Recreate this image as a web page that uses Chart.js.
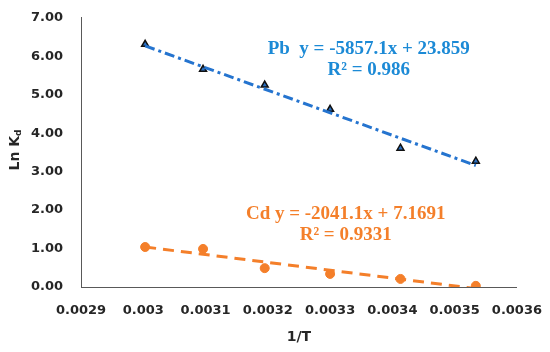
<!DOCTYPE html>
<html>
<head>
<meta charset="utf-8">
<script src="https://cdn.jsdelivr.net/npm/chart.js@4/dist/chart.umd.min.js"></script>
<style>
  html, body { margin: 0; padding: 0; background: #fff; }
  #wrap { width: 550px; height: 352px; }
</style>
</head>
<body>
<div id="wrap"><canvas id="id-canvas" width="550" height="352"></canvas></div>
<script>
// valeurs
var invT = [0.003003, 0.003096, 0.003195, 0.003300, 0.003413, 0.003534];
var pbLnKd = [6.31, 5.66, 5.25, 4.62, 3.61, 3.27];
var cdLnKd = [1.04, 0.99, 0.49, 0.34, 0.21, 0.03];

// droites de tendance (extremites lues)
var trendX = [0.003003, 0.003534];
var pbTrend = [6.27, 3.16];
var cdTrend = [1.04, -0.04];

var xTicks = [0.0029, 0.003, 0.0031, 0.0032, 0.0033, 0.0034, 0.0035, 0.0036];

var pbLabel = ['Pb  y = -5857.1x + 23.859', 'R\u00b2 = 0.986'];
var cdLabel = ['Cd y = -2041.1x + 7.1691', 'R\u00b2 = 0.9331'];

var blue = '#2574CF';
var blueText = '#1C8AD6';
var orange = '#F47F2A';

function pts(xs, ys) {
  return xs.map(function(x, i) { return {x: x, y: ys[i]}; });
}

(function() {
  var textPlugin = {
    id: 'texts',
    afterDraw: function(chart) {
      var ctx = chart.ctx;
      var xs = chart.scales.x, ys = chart.scales.y;
      ctx.save();
      ctx.textAlign = 'center';
      ctx.textBaseline = 'middle';
      ctx.font = 'bold 19px "Liberation Serif"';
      ctx.fillStyle = blueText;
      ctx.fillText(pbLabel[0], xs.getPixelForValue(0.003362), ys.getPixelForValue(6.18));
      ctx.fillText(pbLabel[1], xs.getPixelForValue(0.003362), ys.getPixelForValue(5.63));
      ctx.fillStyle = orange;
      ctx.fillText(cdLabel[0], xs.getPixelForValue(0.003325), ys.getPixelForValue(1.90));
      ctx.fillText(cdLabel[1], xs.getPixelForValue(0.003325), ys.getPixelForValue(1.36));

      // titre axe x
      ctx.fillStyle = '#262626';
      ctx.font = 'bold 14px "DejaVu Sans"';
      ctx.fillText('1/T', (chart.chartArea.left + chart.chartArea.right) / 2, 337);

      // titre axe y avec indice
      ctx.translate(15, 150);
      ctx.rotate(-Math.PI / 2);
      ctx.textAlign = 'left';
      ctx.font = 'bold 14px "DejaVu Sans"';
      var w1 = ctx.measureText('Ln K').width;
      ctx.font = 'bold 9px "DejaVu Sans"';
      var w2 = ctx.measureText('d').width;
      var x0 = -(w1 + w2) / 2;
      ctx.font = 'bold 14px "DejaVu Sans"';
      ctx.fillText('Ln K', x0, 0);
      ctx.font = 'bold 9px "DejaVu Sans"';
      ctx.fillText('d', x0 + w1, 4);
      ctx.restore();
    }
  };

  var options = {
    type: 'scatter',
    data: {
      datasets: [
        {
          label: 'Pb trend',
          data: pts(trendX, pbTrend),
          showLine: true,
          borderColor: blue,
          borderWidth: 3,
          borderDash: [10, 4, 3, 4],
          pointRadius: 0,
          fill: false
        },
        {
          label: 'Cd trend',
          data: pts(trendX, cdTrend),
          showLine: true,
          borderColor: orange,
          borderWidth: 3,
          borderDash: [11, 7],
          pointRadius: 0,
          fill: false
        },
        {
          label: 'Pb',
          data: pts(invT, pbLnKd),
          pointStyle: 'triangle',
          pointRadius: 4,
          backgroundColor: '#2A6FC0',
          borderColor: '#111',
          borderWidth: 1.5
        },
        {
          label: 'Cd',
          data: pts(invT, cdLnKd),
          pointStyle: 'circle',
          pointRadius: 4.5,
          backgroundColor: orange,
          borderColor: orange,
          borderWidth: 1
        }
      ]
    },
    options: {
      responsive: false,
      animation: false,
      layout: { padding: { top: 6, right: 14, left: 0, bottom: 0 } },
      plugins: {
        legend: { display: false },
        tooltip: { enabled: false }
      },
      scales: {
        x: {
          type: 'linear',
          min: 0.0029,
          max: 0.0036,
          grid: { display: false },
          border: { display: true, color: '#595959', width: 1 },
          afterBuildTicks: function(scale) {
            scale.ticks = xTicks.map(function(v) { return {value: v}; });
          },
          afterFit: function(scale) { scale.height = 65; },
          ticks: {
            padding: 8,
            color: '#262626',
            font: { family: 'DejaVu Sans', size: 13, weight: 'bold' },
            maxRotation: 0,
            callback: function(v) { return String(Number(v.toFixed(4))); }
          }
        },
        y: {
          min: 0,
          max: 7,
          grid: { display: false },
          border: { display: true, color: '#595959', width: 1 },
          afterFit: function(scale) { scale.width = 81; },
          ticks: {
            stepSize: 1,
            padding: 10,
            color: '#262626',
            font: { family: 'DejaVu Sans', size: 13, weight: 'bold' },
            callback: function(v) { return v.toFixed(2); }
          }
        }
      }
    },
    plugins: [textPlugin]
  };

  var ctx = document.getElementById('id-canvas').getContext('2d');
  window.chart = new Chart(ctx, options);
})();
</script>
</body>
</html>
